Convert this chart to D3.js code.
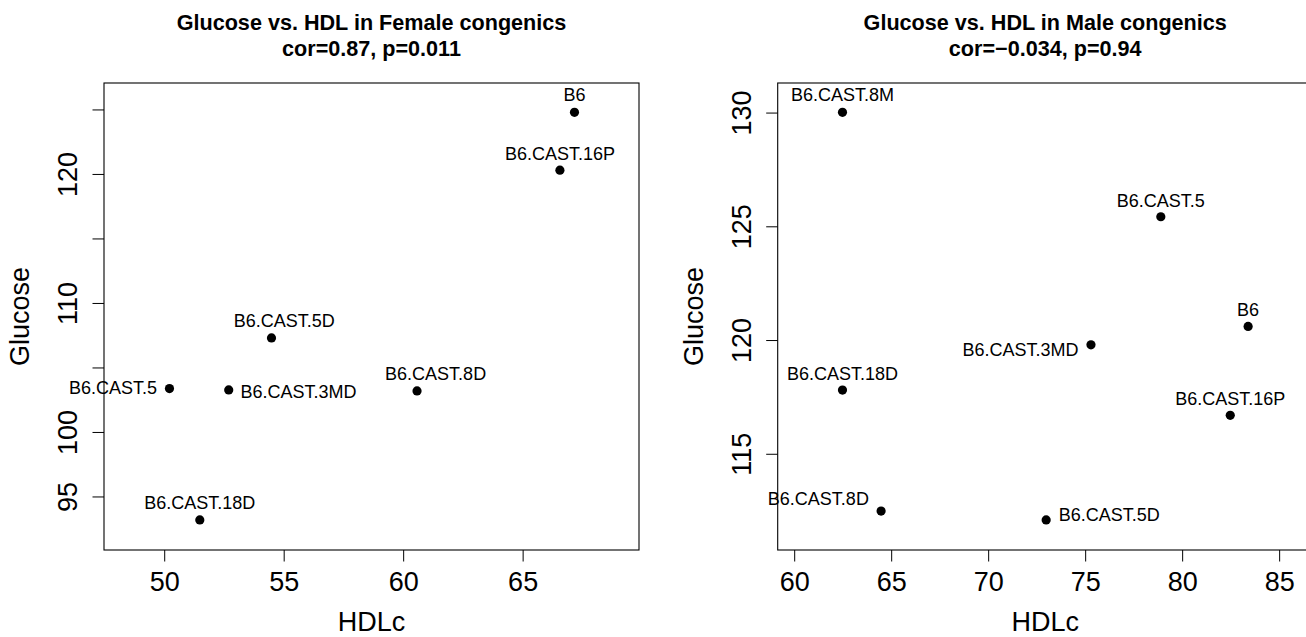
<!doctype html>
<html>
  <head>
    <script src="https://cdnjs.cloudflare.com/ajax/libs/d3/7.8.5/d3.min.js"></script>
    <style>
      body { margin: 0; background: white; }
      svg { display: block; font-family: "Liberation Sans", Arial, Helvetica, sans-serif; }
      .title { font-weight: bold; font-size: 21.6px; text-anchor: middle; }
      .tick text { font-size: 27px; fill: black; }
      .tick line { stroke: black; stroke-width: 1px; }
      .axis-label { font-size: 27px; text-anchor: middle; }
      .pt-label { font-size: 18px; }
      .box { fill: none; stroke: black; stroke-width: 1.1px; }
    </style>
  </head>
  <body>
    <svg width="1306" height="637"></svg>
    <script>
      // female congenics
      var femaleStrain  = ["B6", "B6.CAST.16P", "B6.CAST.5D", "B6.CAST.5", "B6.CAST.3MD", "B6.CAST.8D", "B6.CAST.18D"];
      var femaleHDL     = [67.17, 66.56, 54.49, 50.22, 52.70, 60.58, 51.49];
      var femaleGlucose = [124.78, 120.29, 107.29, 103.36, 103.26, 103.18, 93.18];
      var femaleXTicks  = [50, 55, 60, 65];
      var femaleYTicks  = [95, 100, 105, 110, 115, 120, 125];
      var femaleYLabels = [95, 100, 110, 120];

      // male congenics
      var maleStrain  = ["B6.CAST.8M", "B6.CAST.5", "B6", "B6.CAST.3MD", "B6.CAST.18D", "B6.CAST.16P", "B6.CAST.8D", "B6.CAST.5D"];
      var maleHDL     = [62.49, 78.90, 83.40, 75.30, 62.49, 82.48, 64.48, 72.99];
      var maleGlucose = [130.01, 125.42, 120.60, 119.79, 117.80, 116.69, 112.48, 112.09];
      var maleXTicks  = [60, 65, 70, 75, 80, 85];
      var maleYTicks  = [115, 120, 125, 130];
      var maleYLabels = [115, 120, 125, 130];

      // where each point's label sits: side, nudge x, nudge y
      var femaleLabelPos = [["top", 0, -11], ["top", 0, -10.5], ["top", 12.7, -11], ["left", -12.4, 5.6],
                            ["right", 11.7, 8], ["top", 18.6, -11], ["top", 0, -10.7]];
      var maleLabelPos   = [["top", 0, -11.5], ["top", 0, -10], ["top", 0, -10.6], ["left", -12.5, 11],
                            ["top", 0, -10], ["top", 0, -10.3], ["left", -12.2, -6], ["right", 12.5, 1]];

      var svg = d3.select("svg");
      var boxTop = 83, boxBottom = 550, boxWidth = 535;

      drawPanel({
        left: 104,
        xlim: [47.48, 69.87], ylim: [90.85, 127.05],
        title: ["Glucose vs. HDL in Female congenics", "cor=0.87, p=0.011"],
        names: femaleStrain, xs: femaleHDL, ys: femaleGlucose, lab: femaleLabelPos,
        xTicks: femaleXTicks, yTicks: femaleYTicks, yLabels: femaleYLabels
      });

      drawPanel({
        left: 777.7,
        xlim: [59.15, 86.73], ylim: [110.77, 131.3],
        title: ["Glucose vs. HDL in Male congenics", "cor=\u22120.034, p=0.94"],
        names: maleStrain, xs: maleHDL, ys: maleGlucose, lab: maleLabelPos,
        xTicks: maleXTicks, yTicks: maleYTicks, yLabels: maleYLabels
      });

      function drawPanel(p) {
        var x = d3.scaleLinear().domain(p.xlim).range([p.left, p.left + boxWidth]);
        var y = d3.scaleLinear().domain(p.ylim).range([boxBottom, boxTop]);
        var g = svg.append("g");
        var cx = p.left + boxWidth / 2;

        g.append("text").attr("class", "title").attr("x", cx).attr("y", 30).text(p.title[0]);
        g.append("text").attr("class", "title").attr("x", cx).attr("y", 56).text(p.title[1]);

        // x axis
        var xAxis = g.append("g")
          .attr("transform", "translate(0," + boxBottom + ")")
          .call(d3.axisBottom(x).tickValues(p.xTicks).tickSize(11.5).tickFormat(d3.format("d")));
        xAxis.select(".domain").remove();
        xAxis.selectAll("text").attr("y", 41).attr("dy", 0).attr("fill", "black");

        // y axis, labels parallel to the axis
        var yAxis = g.append("g")
          .attr("transform", "translate(" + p.left + ",0)")
          .call(d3.axisLeft(y).tickValues(p.yTicks).tickSize(11.5)
            .tickFormat(d => p.yLabels.indexOf(d) >= 0 ? d : ""));
        yAxis.select(".domain").remove();
        yAxis.selectAll("text")
          .attr("transform", "rotate(-90)")
          .attr("x", 0).attr("y", -26.7).attr("dy", 0)
          .style("text-anchor", "middle").attr("fill", "black");

        g.append("text").attr("class", "axis-label")
          .attr("x", cx).attr("y", 631).text("HDLc");
        g.append("text").attr("class", "axis-label")
          .attr("transform", "translate(" + (p.left - 75) + "," + ((boxTop + boxBottom) / 2) + ") rotate(-90)")
          .text("Glucose");

        g.append("rect").attr("class", "box")
          .attr("x", p.left).attr("y", boxTop)
          .attr("width", boxWidth).attr("height", boxBottom - boxTop);

        var pts = p.names.map((n, i) => ({name: n, hdl: p.xs[i], glu: p.ys[i], lab: p.lab[i]}));

        g.selectAll("circle.pt").data(pts).enter()
          .append("circle").attr("class", "pt")
            .attr("cx", d => x(d.hdl)).attr("cy", d => y(d.glu))
            .attr("r", 4.6).attr("fill", "black");

        g.selectAll("text.pt-label").data(pts).enter()
          .append("text").attr("class", "pt-label")
            .attr("x", d => x(d.hdl) + d.lab[1])
            .attr("y", d => y(d.glu) + d.lab[2])
            .style("text-anchor", d => d.lab[0] == "left" ? "end" : (d.lab[0] == "right" ? "start" : "middle"))
            .text(d => d.name);
      }
    </script>
  </body>
</html>
